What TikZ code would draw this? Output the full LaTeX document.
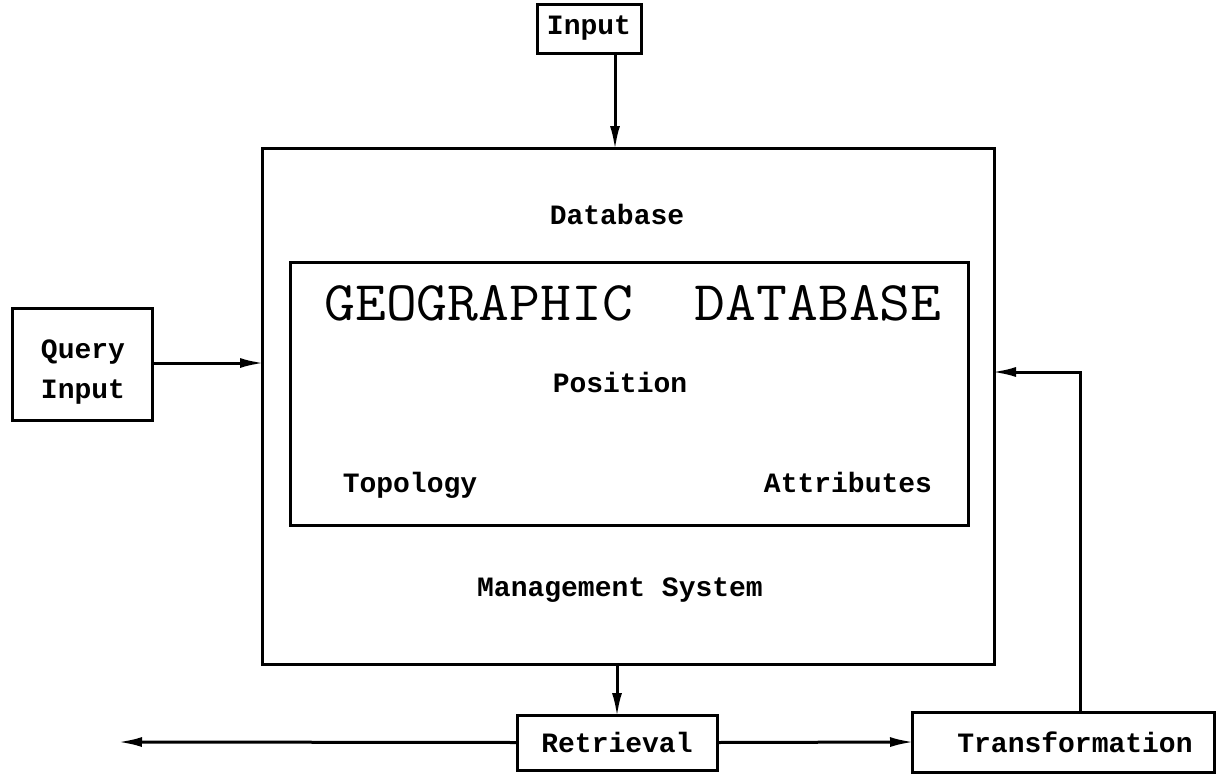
\documentclass[tikz,border=0pt]{standalone}
\usepackage{fontspec}
\newfontfamily\lblfont{Liberation Mono}
\usetikzlibrary{arrows.meta}
\tikzset{
  lbl/.style={font=\lblfont\bfseries\fontsize{28}{32}\selectfont, inner sep=0pt},
  box/.style={draw, line width=3pt, inner sep=0pt, outer sep=0pt},
  arr/.style={line width=3pt, -{Latex[length=24pt,width=10pt]}, shorten >=-2pt},
  ln/.style={line width=3pt}
}
\begin{document}
\begin{tikzpicture}[x=1pt,y=-1pt]
\useasboundingbox (0,0) rectangle (1219,774);
% boxes
\node[box, minimum width=104, minimum height=49] (input) at (589,28.5) {};
\node[lbl] (inputt) at (589,28.5) {Input};
\node[box, minimum width=732, minimum height=516] (outer) at (628,406) {};
\node[box, minimum width=678, minimum height=263] (inner) at (629,393.5) {};
\node[box, minimum width=140, minimum height=112] (query) at (82,364) {};
\node[lbl] (queryt) at (83,352) {Query};
\node[lbl] (queryi) at (83,392) {Input};
\node[box, minimum width=200, minimum height=55] (retr) at (617,742.5) {};
\node[lbl] (retrt) at (617,742) {Retrieval};
\node[box, minimum width=302, minimum height=60] (trans) at (1063,742) {};
\node[lbl] (transt) at (1075,742) {Transformation};
% texts
\node[lbl] (db) at (617,214) {Database};
\node[font=\ttfamily\fontsize{56}{64}\selectfont, inner sep=0pt] (geo) at (633,303) {\scalebox{1.07}[1]{GEOGRAPHIC~~DATABASE}};
\node[lbl] (pos) at (620,382) {Position};
\node[lbl, anchor=base] (topo) at (410,492) {Topology};
\node[lbl, anchor=base] (attr) at (848,492) {Attributes};
\node[lbl] (mgmt) at (620,590) {Management System};
% connectors
\coordinate (ax) at (615,0);
\coordinate (qy) at (0,363);
\coordinate (lend) at (120,742);
\coordinate (fb) at (1080,372);
\draw[arr] (input.south -| ax) -- (outer.north -| ax);
\draw[arr] (query.east |- qy) -- (outer.west |- qy);
\draw[arr] (outer.south -| retr) -- (retr.north);
\draw[arr] (retr.west) -- (lend);
\draw[arr] (retr.east) -- (trans.west);
\draw[arr] (trans.north -| fb) -- (fb) -- (outer.east |- fb);
\end{tikzpicture}
\end{document}
